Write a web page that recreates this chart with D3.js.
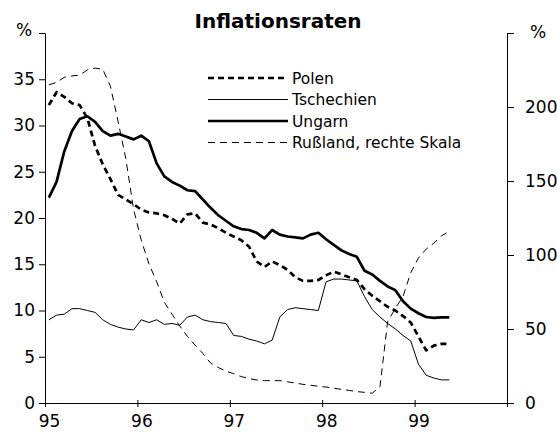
<!DOCTYPE html>
<html>
<head>
<meta charset="utf-8">
<script src="https://cdnjs.cloudflare.com/ajax/libs/d3/7.8.5/d3.min.js"></script>
<style>
  html, body { margin: 0; padding: 0; background: #fff; }
  svg text { font-family: "DejaVu Sans", Arial, sans-serif; fill: #000; }
</style>
</head>
<body>
<svg id="chart" width="557" height="436"></svg>
<script>
// monthly values, Jan 1995 - May 1999 (year-on-year, %)
const startYear = 1995;

const polen = [
  32.2, 33.6, 33.1, 32.4, 32.2, 30.8, 27.8, 25.8, 24.2, 22.5, 22.0, 21.5,
  20.9, 20.6, 20.5, 20.3, 19.9, 19.4, 20.4, 20.5, 19.5, 19.3, 18.9, 18.4,
  18.0, 17.6, 16.9, 15.3, 14.7, 15.3, 14.9, 14.4, 13.6, 13.2, 13.2, 13.3,
  13.8, 14.2, 13.9, 13.6, 13.3, 12.3, 11.6, 11.0, 10.4, 10.0, 9.4, 8.7,
  7.2, 5.7, 6.2, 6.4, 6.4
];

const tschechien = [
  9.0, 9.5, 9.6, 10.2, 10.2, 10.0, 9.8, 9.0, 8.5, 8.2, 8.0, 7.9,
  9.0, 8.7, 9.0, 8.5, 8.6, 8.4, 9.3, 9.5, 9.0, 8.8, 8.7, 8.6,
  7.3, 7.2, 6.9, 6.7, 6.4, 6.8, 9.3, 10.1, 10.3, 10.2, 10.1, 10.0,
  13.1, 13.4, 13.4, 13.3, 13.2, 11.5, 10.1, 9.3, 8.6, 8.0, 7.3, 6.7,
  4.2, 3.0, 2.7, 2.5, 2.5
];

const ungarn = [
  22.2, 23.9, 27.2, 29.4, 30.7, 31.0, 30.4, 29.4, 28.9, 29.1, 28.8, 28.5,
  28.9, 28.3, 25.9, 24.5, 23.9, 23.5, 23.0, 22.9, 22.0, 21.1, 20.3, 19.7,
  19.1, 18.8, 18.7, 18.4, 17.8, 18.7, 18.2, 18.0, 17.9, 17.8, 18.2, 18.4,
  17.7, 17.1, 16.5, 16.1, 15.8, 14.3, 13.9, 13.2, 12.6, 12.2, 11.0, 10.2,
  9.7, 9.3, 9.2, 9.25, 9.25
];

// right scale
const russland = [
  215, 216.6, 220, 221, 221.5, 225, 226.3, 225.5, 214, 190, 165, 131,
  110, 94, 82, 68, 60, 52, 45, 39, 33.5, 27, 24, 21.5,
  19.8, 17.8, 16.5, 15.6, 15.1, 15.1, 15.1, 14.3, 13.5, 12.6, 12.0, 11.3,
  10.8, 10.0, 9.2, 8.5, 7.7, 7.2, 6.6, 11, 55, 64, 72, 88,
  98, 104, 108, 113, 116
];

const yearTicks = [1995, 1996, 1997, 1998, 1999, 2000];
const yearLabels = ["95", "96", "97", "98", "99", ""];
const leftTicks = [0, 5, 10, 15, 20, 25, 30, 35, 40];
const rightTicks = [0, 50, 100, 150, 200, 250];

const seriesNames = ["Polen", "Tschechien", "Ungarn", "Rußland, rechte Skala"];

const svg = d3.select('#chart');

const x = d3.scaleLinear().domain([1995, 2000]).range([45, 507]);
const yLeft = d3.scaleLinear().domain([0, 40]).range([403, 33]);
const yRight = d3.scaleLinear().domain([0, 250]).range([403, 33]);

// mid-month positions
const monthX = i => x(startYear + (i + 0.5) / 12);

// styles per series
const styles = [
  { data: polen, scale: yLeft, width: 2.7, dash: '6,4' },
  { data: tschechien, scale: yLeft, width: 1, dash: null },
  { data: ungarn, scale: yLeft, width: 2.7, dash: null },
  { data: russland, scale: yRight, width: 1, dash: '7,5' }
];

// Title
svg.append('text')
  .attr('x', 278)
  .attr('y', 28)
  .attr('text-anchor', 'middle')
  .attr('font-size', '20px')
  .attr('font-weight', 'bold')
  .text('Inflationsraten');

// Left axis
const leftAxis = svg.append('g')
  .attr('transform', `translate(${x(1995)},0)`)
  .call(d3.axisLeft(yLeft).tickValues(leftTicks).tickSize(6).tickSizeOuter(0).tickPadding(4)
    .tickFormat(d => d === 40 ? '' : d));

// Right axis
const rightAxis = svg.append('g')
  .attr('transform', `translate(${x(2000)},0)`)
  .call(d3.axisRight(yRight).tickValues(rightTicks).tickSize(7).tickSizeOuter(0).tickPadding(11)
    .tickFormat(d => d === 250 ? '' : d));

// Bottom axis
const bottomAxis = svg.append('g')
  .attr('transform', `translate(0,${yLeft(0)})`)
  .call(d3.axisBottom(x).tickValues(yearTicks).tickSize(4).tickSizeOuter(0).tickPadding(8)
    .tickFormat((d, i) => yearLabels[i]));

bottomAxis.selectAll('.tick line').attr('y1', -3);
bottomAxis.selectAll('.tick text').attr('dx', 4);

[leftAxis, rightAxis, bottomAxis].forEach(a => {
  a.selectAll('text')
    .attr('font-family', '"DejaVu Sans", Arial, sans-serif')
    .attr('font-size', '17px')
    .attr('fill', '#000');
  a.selectAll('path, line').attr('stroke', '#000').attr('stroke-width', 1);
});

// % labels
svg.append('text').attr('x', 24).attr('y', 36).attr('text-anchor', 'middle')
  .attr('font-size', '17px').text('%');
svg.append('text').attr('x', 538).attr('y', 38).attr('text-anchor', 'middle')
  .attr('font-size', '17px').text('%');

// Lines
styles.forEach(s => {
  const line = d3.line()
    .x((d, i) => monthX(i))
    .y(d => s.scale(d));
  svg.append('path')
    .datum(s.data)
    .attr('fill', 'none')
    .attr('stroke', '#000')
    .attr('stroke-width', s.width)
    .attr('stroke-dasharray', s.dash)
    .attr('stroke-linejoin', 'round')
    .attr('d', line);
});

// Legend
const legend = svg.append('g').attr('transform', 'translate(208,78)');
seriesNames.forEach((name, i) => {
  const g = legend.append('g').attr('transform', `translate(0,${i * 21.5})`);
  g.append('line')
    .attr('x1', 0).attr('x2', 80)
    .attr('stroke', '#000')
    .attr('stroke-width', styles[i].width)
    .attr('stroke-dasharray', styles[i].dash);
  g.append('text')
    .attr('x', 84)
    .attr('y', 5.5)
    .attr('font-size', '15.5px')
    .text(name);
});
</script>
</body>
</html>
